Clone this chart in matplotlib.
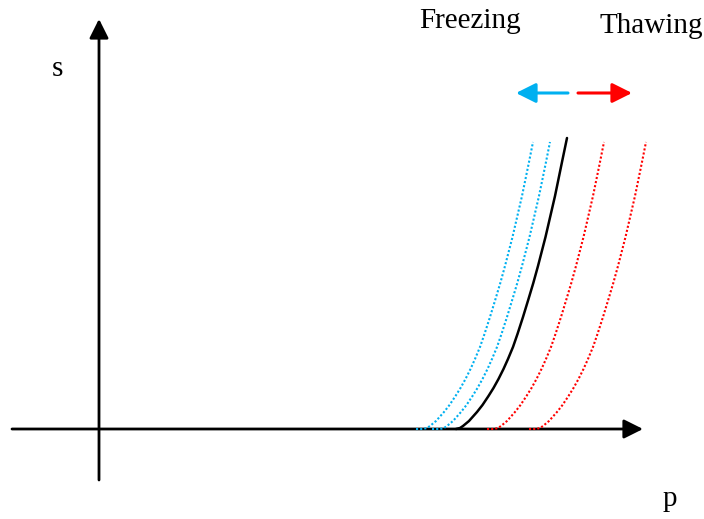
import matplotlib
matplotlib.use("Agg")
import matplotlib.pyplot as plt

# Reference curve, sampled along the s axis
s_black = [0, 1, 3, 8, 17, 24, 33, 41, 50, 60, 70, 82, 95, 112, 130, 146, 163,
           192, 233, 267, 291]
p_black = [357, 361, 364, 370, 378, 383.5, 389.5, 394.5, 399.5, 404.5, 409, 414,
           418.5, 424, 429.5, 434.3, 439, 446.5, 456, 463, 468]

# Shifted curves (freezing to the left, thawing to the right)
s_shift = [0, 0, 1, 3, 8, 17, 24, 33, 41, 50, 60, 70, 82, 95, 112, 130, 146, 163,
           192, 233, 267, 287]
p_freeze_far = [317, 324, 328, 331, 337, 345, 350.5, 356.5, 361.5, 366.5, 371.5,
                376, 381, 385.5, 391, 396.5, 401.3, 406, 413.5, 423, 430, 434]
p_freeze_near = [333, 341, 345, 348, 354, 362, 367.5, 373.5, 378.5, 383.5, 388.5,
                 393, 398, 402.5, 408, 413.5, 418.3, 423, 430.5, 440, 447, 451]
p_thaw_near = [388, 395, 399, 402, 408, 416, 421.5, 427.5, 432.5, 437.5, 442.5,
               447, 452, 456.5, 462, 467.5, 472.3, 477, 484.5, 494, 501, 505]
p_thaw_far = [430, 437, 441, 444, 450, 458, 463.5, 469.5, 474.5, 479.5, 484.5,
              489, 494, 498.5, 504, 509.5, 514.3, 519, 526.5, 536, 543, 547]

labels = {"freeze": "Freezing", "thaw": "Thawing", "x": "p", "y": "s"}

BLUE = "#00B0F0"
RED = "#FF0000"
SERIF = ["Liberation Serif", "DejaVu Serif"]
FS = 21

fig = plt.figure(figsize=(7.04, 5.19), dpi=100)
ax = fig.add_axes([0, 0, 1, 1])
ax.set_xlim(-99, 605)
ax.set_ylim(-90, 429)
ax.axis("off")

# Coordinate axes with arrow heads
axis_kw = dict(arrowstyle="-|>", mutation_scale=29, lw=2.0, color="black",
               shrinkA=0, shrinkB=0)
ax.annotate("", xy=(544, 0), xytext=(-87, 0), arrowprops=axis_kw, zorder=2)
ax.annotate("", xy=(0, 410), xytext=(0, -51), arrowprops=axis_kw, zorder=2)

# Shifted curves (dotted) and the reference curve (solid)
dot = (0, (1, 1.0))
for p_vals, col in [(p_freeze_far, BLUE), (p_freeze_near, BLUE),
                    (p_thaw_near, RED), (p_thaw_far, RED)]:
    ax.plot(p_vals, s_shift, color=col, lw=1.5, linestyle=dot, zorder=3)
ax.plot(p_black, s_black, color="black", lw=1.8, zorder=4,
        solid_capstyle="round", solid_joinstyle="round")

# Direction arrows
ax.annotate("", xy=(417, 336), xytext=(469, 336),
            arrowprops=dict(arrowstyle="-|>", mutation_scale=30, lw=2.2,
                            color=BLUE, shrinkA=0, shrinkB=0))
ax.annotate("", xy=(533, 336), xytext=(479, 336),
            arrowprops=dict(arrowstyle="-|>", mutation_scale=30, lw=2.2,
                            color=RED, shrinkA=0, shrinkB=0))

ax.text(320, 401, labels["freeze"], family=SERIF, fontsize=FS, va="baseline", ha="left")
ax.text(500.5, 396, labels["thaw"], family=SERIF, fontsize=FS, va="baseline", ha="left")
ax.text(-47, 353, labels["y"], family=SERIF, fontsize=FS, va="baseline", ha="left")
ax.text(564, -77, labels["x"], family=SERIF, fontsize=FS, va="baseline", ha="left")

fig.savefig("out.png", dpi=100)
